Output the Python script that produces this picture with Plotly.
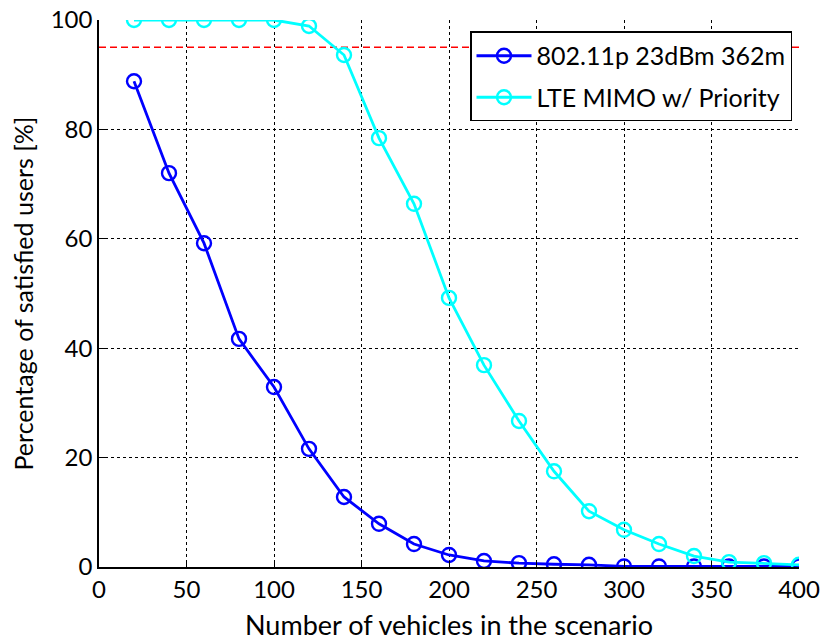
import plotly.graph_objects as go

vehicles = [20, 40, 60, 80, 100, 120, 140, 160, 180, 200, 220, 240, 260, 280, 300, 320, 340, 360, 380, 400]
wifi_pct = [88.8, 72.0, 59.2, 41.7, 32.9, 21.6, 12.8, 7.9, 4.2, 2.2, 1.1, 0.7, 0.5, 0.4, 0.1, 0.1, 0.1, 0.1, 0.1, 0.1]
lte_pct = [100, 100, 100, 100, 100, 98.9, 93.6, 78.4, 66.4, 49.2, 36.9, 26.7, 17.5, 10.2, 6.8, 4.2, 2.0, 0.9, 0.7, 0.4]
threshold = 95
x_ticks = [0, 50, 100, 150, 200, 250, 300, 350, 400]
y_ticks = [0, 20, 40, 60, 80, 100]

FONT = "Lato, Open Sans, sans-serif"

fig = go.Figure()

# satisfaction threshold
fig.add_trace(go.Scatter(
    x=[0, 400], y=[threshold, threshold], mode="lines",
    line=dict(color="#ff0000", width=1.5, dash="7px,4px"),
    showlegend=False, hoverinfo="skip",
))

fig.add_trace(go.Scatter(
    x=vehicles, y=wifi_pct, mode="lines+markers", name="802.11p 23dBm 362m",
    legendgroup="a",
    line=dict(color="#0000ff", width=2.8),
    marker=dict(symbol="circle-open", size=14, line=dict(width=2.4, color="#0000ff")),
))

fig.add_trace(go.Scatter(
    x=vehicles, y=lte_pct, mode="lines+markers", name="LTE MIMO w/ Priority",
    legendgroup="b",
    line=dict(color="#00ffff", width=2.8),
    marker=dict(symbol="circle-open", size=14, line=dict(width=2.4, color="#00ffff")),
))

axis_common = dict(
    showgrid=True, gridcolor="black", griddash="dot", gridwidth=1,
    zeroline=False, showline=True, linecolor="black", linewidth=1.5,
    ticks="inside", ticklen=6, tickcolor="black",
    tickfont=dict(family=FONT, size=24, color="black"),
    mirror=False, automargin=False,
)

fig.update_layout(
    width=825, height=640,
    margin=dict(l=99, r=26, t=20, b=73),
    paper_bgcolor="white", plot_bgcolor="white",
    font=dict(family=FONT, color="black"),
    xaxis=dict(range=[0, 400], tickvals=x_ticks, **axis_common),
    yaxis=dict(range=[0, 100], tickvals=y_ticks, **axis_common),
    legend=dict(
        x=0.99, y=0.979, xanchor="right", yanchor="top",
        bgcolor="white", bordercolor="black", borderwidth=1.5,
        font=dict(family=FONT, size=25, color="black"),
        tracegroupgap=6, itemwidth=55,
    ),
    annotations=[
        dict(text="Number of vehicles in the scenario", xref="paper", yref="paper",
             x=0.5, y=-0.106, xanchor="center", yanchor="middle", showarrow=False,
             font=dict(family=FONT, size=27, color="black")),
        dict(text="Percentage of satisfied users [%]", xref="paper", yref="paper",
             x=-0.1086, y=0.5, xanchor="center", yanchor="middle", showarrow=False,
             textangle=-90, font=dict(family=FONT, size=25, color="black")),
    ],
)

fig.write_html("out.html")
